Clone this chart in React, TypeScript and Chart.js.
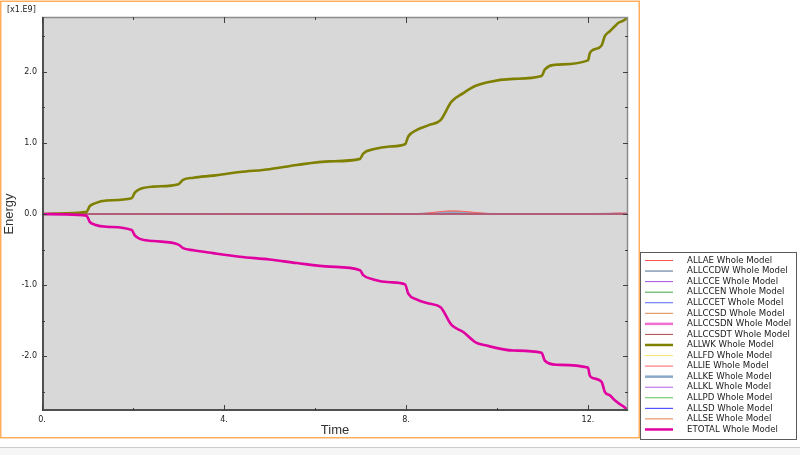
import React, { useEffect, useRef } from 'react';
import { Chart, registerables } from 'chart.js';

Chart.register(...registerables);

// ---- data (energy in units of 1e9) ----
const workTime = [0, 0.5, 0.98, 1.05, 1.16, 1.42, 1.97, 2.04, 2.15, 2.45, 3.0, 3.1, 3.33, 3.76, 4.35, 5.0, 5.6, 6.33, 6.99, 7.06, 7.28, 7.65, 7.98, 8.05, 8.23, 8.5, 8.76, 9.0, 9.26, 9.52, 9.77, 10.36, 10.98, 11.05, 11.31, 12.0, 12.04, 12.12, 12.3, 12.37, 12.48, 12.59, 12.67, 12.81, 12.85];
const workEnergy = [0, 0.01, 0.03, 0.11, 0.15, 0.19, 0.22, 0.3, 0.35, 0.385, 0.42, 0.48, 0.51, 0.54, 0.59, 0.63, 0.69, 0.74, 0.775, 0.85, 0.91, 0.95, 0.98, 1.09, 1.18, 1.25, 1.32, 1.58, 1.7, 1.8, 1.85, 1.9, 1.94, 2.03, 2.1, 2.16, 2.26, 2.31, 2.37, 2.5, 2.57, 2.64, 2.69, 2.73, 2.76];
const totalTime = workTime;
const totalEnergy = [0, -0.005, -0.025, -0.11, -0.15, -0.18, -0.225, -0.3, -0.35, -0.38, -0.43, -0.48, -0.51, -0.55, -0.6, -0.64, -0.69, -0.74, -0.79, -0.86, -0.92, -0.96, -0.99, -1.12, -1.2, -1.26, -1.31, -1.56, -1.66, -1.8, -1.85, -1.92, -1.95, -2.06, -2.12, -2.16, -2.27, -2.31, -2.36, -2.5, -2.55, -2.62, -2.66, -2.72, -2.75];
const smallTime = [0, 2, 4, 6, 8, 8.4, 8.7, 9.0, 9.3, 9.7, 10.0, 11, 12, 12.4, 12.6, 12.88];
const ieEnergy = [0, 0, 0, 0, 0.002, 0.01, 0.03, 0.045, 0.035, 0.012, 0.004, 0.002, 0.002, 0.006, 0.012, 0.012];
const seEnergy = [0, 0, 0, 0, 0.001, 0.006, 0.022, 0.035, 0.026, 0.008, 0.002, 0.001, 0.001, 0.004, 0.008, 0.009];
const keEnergy = [0, 0, 0, 0, 0, 0.004, 0.015, 0.022, 0.015, 0.004, 0, 0, 0, 0.002, 0.004, 0.004];
const sdEnergy = [-0.006, -0.006, -0.006, -0.006, -0.006, -0.006, -0.006, -0.006, -0.006, -0.006, -0.006, -0.006, -0.006, -0.006, -0.006, -0.006];
const zeroEnergy = [0, 0, 0, 0, 0, 0, 0, 0, 0, 0, 0, 0, 0, 0, 0, 0];

const xTickValues = [0, 4, 8, 12];
const xMinorValues = [2, 6, 10];
const yTickValues = [-2, -1, 0, 1, 2];
const yMinorValues = [-2.5, -1.5, -0.5, 0.5, 1.5, 2.5];

const seriesNames = ['ALLAE', 'ALLCCDW', 'ALLCCE', 'ALLCCEN', 'ALLCCET', 'ALLCCSD', 'ALLCCSDN', 'ALLCCSDT', 'ALLWK', 'ALLFD', 'ALLIE', 'ALLKE', 'ALLKL', 'ALLPD', 'ALLSD', 'ALLSE', 'ETOTAL'];
const seriesColors = ['#ff5050', '#4a6a8a', '#a050e0', '#40a040', '#5068ff', '#e08850', '#f070d0', '#b04848', '#7f7f00', '#f5e070', '#ff6060', '#8aa8c8', '#b060e8', '#60c060', '#3030ff', '#e08050', '#e000a0'];
const seriesWidths = [1, 1, 1, 1, 1, 1, 2, 1, 2.6, 1, 1, 2, 1, 1, 1, 1, 2.6];

function seriesData(name: string) {
  if (name === 'ALLWK') return workTime.map((t, i) => ({ x: t, y: workEnergy[i] }));
  if (name === 'ETOTAL') return totalTime.map((t, i) => ({ x: t, y: totalEnergy[i] }));
  const arr = name === 'ALLIE' ? ieEnergy : name === 'ALLSE' ? seEnergy : name === 'ALLKE' ? keEnergy : name === 'ALLSD' ? sdEnergy : zeroEnergy;
  return smallTime.map((t, i) => ({ x: t, y: arr[i] }));
}

const framePlugin = {
  id: 'abaqusFrame',
  beforeDraw(chart: any) {
    const { ctx } = chart;
    const { left, top, right, bottom } = chart.chartArea;
    ctx.save();
    ctx.fillStyle = '#ffffff';
    ctx.fillRect(0, 0, 800, 455);
    ctx.fillStyle = '#f6f6f6';
    ctx.fillRect(0, 448, 800, 7);
    ctx.strokeStyle = '#cccccc';
    ctx.lineWidth = 1;
    ctx.beginPath();
    ctx.moveTo(0, 447.5);
    ctx.lineTo(800, 447.5);
    ctx.stroke();
    ctx.strokeStyle = '#ffae5e';
    ctx.lineWidth = 1.5;
    ctx.strokeRect(0.75, 1.25, 638.5, 436.5);
    ctx.fillStyle = '#d8d8d8';
    ctx.fillRect(left, top, right - left, bottom - top);
    ctx.fillStyle = '#222';
    ctx.font = '8px "DejaVu Sans"';
    ctx.textBaseline = 'middle';
    ctx.textAlign = 'left';
    ctx.fillText('[x1.E9]', 7, 10);
    ctx.restore();
  },
  afterDatasetsDraw(chart: any) {
    const { ctx } = chart;
    const { left, top, right, bottom } = chart.chartArea;
    const xs = chart.scales.x;
    const ys = chart.scales.y;
    ctx.save();
    ctx.lineWidth = 1.5;
    ctx.strokeStyle = '#8c8c8c';
    ctx.beginPath();
    ctx.moveTo(left, top + 0.5);
    ctx.lineTo(right - 0.5, top + 0.5);
    ctx.lineTo(right - 0.5, bottom);
    ctx.stroke();
    ctx.lineWidth = 2;
    ctx.strokeStyle = '#505050';
    ctx.beginPath();
    ctx.moveTo(left + 1, top);
    ctx.lineTo(left + 1, bottom - 1);
    ctx.lineTo(right, bottom - 1);
    ctx.stroke();
    ctx.lineWidth = 1;
    ctx.strokeStyle = '#404040';
    const xt = (v: number, len: number) => {
      const p = Math.round(xs.getPixelForValue(v)) + 0.5;
      ctx.beginPath();
      ctx.moveTo(p, bottom);
      ctx.lineTo(p, bottom - len);
      ctx.moveTo(p, top);
      ctx.lineTo(p, top + len);
      ctx.stroke();
    };
    const yt = (v: number, len: number) => {
      const p = Math.round(ys.getPixelForValue(v)) + 0.5;
      ctx.beginPath();
      ctx.moveTo(left, p);
      ctx.lineTo(left + len, p);
      ctx.moveTo(right, p);
      ctx.lineTo(right - len, p);
      ctx.stroke();
    };
    xTickValues.forEach((v) => xt(v, 6));
    xMinorValues.forEach((v) => xt(v, 3));
    yTickValues.forEach((v) => yt(v, 5));
    yMinorValues.forEach((v) => yt(v, 3));
    ctx.restore();
  },
  afterDraw(chart: any) {
    const { ctx } = chart;
    ctx.save();
    ctx.fillStyle = '#ffffff';
    ctx.fillRect(640, 252, 157, 188);
    ctx.strokeStyle = '#5a5a5a';
    ctx.lineWidth = 1;
    ctx.strokeRect(640.5, 252.5, 156, 187);
    ctx.font = '8.6px "DejaVu Sans"';
    ctx.textBaseline = 'middle';
    ctx.textAlign = 'left';
    seriesNames.forEach((name, i) => {
      const y = 260.5 + i * 10.56;
      ctx.strokeStyle = seriesColors[i];
      ctx.lineWidth = seriesWidths[i] > 1.5 ? 2.5 : 1;
      ctx.beginPath();
      ctx.moveTo(645, y);
      ctx.lineTo(673, y);
      ctx.stroke();
      ctx.fillStyle = '#1a1a1a';
      ctx.fillText(name + ' Whole Model', 687, y);
    });
    ctx.restore();
  },
};

export default function App() {
  const canvasRef = useRef<HTMLCanvasElement | null>(null);
  useEffect(() => {
    document.body.style.margin = '0';
    const canvas = canvasRef.current;
    if (!canvas) return;
    const datasets = seriesNames.map((name, i) => ({
      label: name + ' Whole Model',
      data: seriesData(name),
      borderColor: seriesColors[i],
      backgroundColor: seriesColors[i],
      borderWidth: seriesWidths[i],
      pointRadius: 0,
      fill: false,
      cubicInterpolationMode: name === 'ALLWK' || name === 'ETOTAL' ? ('monotone' as const) : ('default' as const),
      tension: 0.4,
      order: name === 'ETOTAL' ? 0 : name === 'ALLWK' ? 1 : name === 'ALLSD' ? 3 : 2,
    }));
    const chart = new Chart(canvas, {
      type: 'line',
      data: { datasets },
      plugins: [framePlugin],
      options: {
        responsive: false,
        animation: false,
        parsing: false as any,
        layout: { padding: { left: 2, top: 17, right: 172, bottom: 17 } },
        plugins: { legend: { display: false }, tooltip: { enabled: false } },
        scales: {
          x: {
            type: 'linear',
            min: 0,
            max: 12.88,
            afterFit: (s: any) => { s.height = 27; },
            afterBuildTicks: (s: any) => { s.ticks = xTickValues.map((v) => ({ value: v })); },
            grid: { display: false, drawTicks: false },
            border: { display: false },
            ticks: {
              padding: 4,
              color: '#1a1a1a',
              font: { family: 'DejaVu Sans', size: 8 },
              maxRotation: 0,
              callback: (v: any) => String(v) + '.',
            },
            title: { display: true, text: 'Time', color: '#333', font: { family: 'Liberation Sans', size: 13 }, padding: 0 },
          },
          y: {
            type: 'linear',
            min: -2.77,
            max: 2.77,
            afterFit: (s: any) => { s.width = 40; },
            afterBuildTicks: (s: any) => { s.ticks = yTickValues.map((v) => ({ value: v })); },
            grid: { display: false, drawTicks: false },
            border: { display: false },
            ticks: {
              padding: 5,
              color: '#1a1a1a',
              font: { family: 'DejaVu Sans', size: 8 },
              callback: (v: any) => Number(v).toFixed(1),
            },
            title: { display: true, text: 'Energy', color: '#333', font: { family: 'Liberation Sans', size: 13 }, padding: 0 },
          },
        },
      },
    });
    return () => chart.destroy();
  }, []);
  return (
    <div style={{ position: 'absolute', left: 0, top: 0, width: 800, height: 455 }}>
      <canvas ref={canvasRef} width={800} height={455} style={{ width: 800, height: 455 }} />
    </div>
  );
}
